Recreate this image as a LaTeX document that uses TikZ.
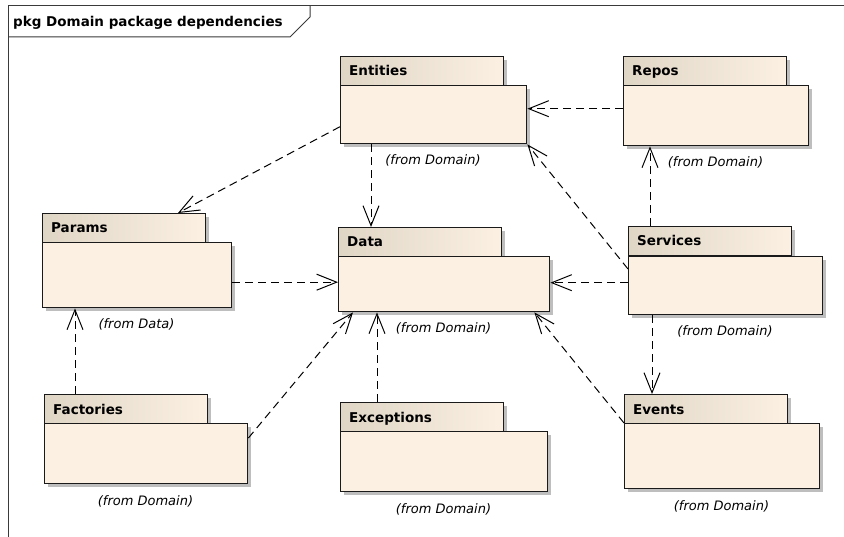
\documentclass[tikz,border=0pt]{standalone}
\usepackage{fontspec}
\setmainfont{DejaVu Sans}
\usetikzlibrary{arrows.meta,shadows}
\definecolor{bodyfill}{HTML}{FBF0E2}
\definecolor{tabL}{HTML}{E0D6C6}
\definecolor{tabR}{HTML}{FBF0E2}
\definecolor{edgec}{HTML}{1A1A1A}
\definecolor{shadowc}{HTML}{BEBEBE}
\definecolor{framec}{HTML}{3A3A3A}
\newcommand\pkgdraw[8]{%
  \node[tabbox] (#1tab) at (#3,#4) {};
  \node[bodybox,minimum width=#6pt,minimum height=#7pt] (#1) at (#3,#5) {};
  \node[pkgname] (#1name) at ({#3+9},{#4+20}) {#2};
  \node[fromlbl] (#1from) at ({#3+#6/2},{#5+#7+22}) {#8};
}
\begin{document}
\begin{tikzpicture}[x=1pt,y=-1pt,
  pkgshadow/.style={drop shadow={shadow xshift=3pt,shadow yshift=-3pt,fill=shadowc,opacity=1}},
  tabbox/.style={draw=edgec,line width=1.4pt,left color=tabL,right color=tabR,anchor=north west,minimum width=163pt,minimum height=29pt,inner sep=0pt,pkgshadow},
  bodybox/.style={draw=edgec,line width=1.4pt,fill=bodyfill,anchor=north west,inner sep=0pt,pkgshadow},
  pkgname/.style={font=\bfseries\fontsize{13.5}{16}\selectfont,anchor=base west,inner sep=0pt},
  fromlbl/.style={font=\itshape\fontsize{13}{15}\selectfont,anchor=base,inner sep=0pt},
  titletext/.style={font=\bfseries\fontsize{13.5}{16}\selectfont,anchor=base west,inner sep=0pt},
  dep/.style={draw=black,line width=1pt,dash pattern=on 8pt off 5pt,-{Straight Barb[length=20pt,width=16pt,line width=1pt]}},
  frameline/.style={draw=framec,line width=1pt},
]
\useasboundingbox (0,0) rectangle (844,537);
\fill[white] (0,0) rectangle (844,537);
% frame
\draw[frameline] (8,537) -- (8,6) -- (844,6);
\draw[frameline] (8,37) -- (290,37) -- (310,17) -- (310,6);
\node[titletext] (title) at (13,27) {pkg Domain package dependencies};
% packages
\pkgdraw{Entities}{Entities}{340}{56}{85}{186}{58}{(from Domain)}
\pkgdraw{Repos}{Repos}{623}{56}{85}{185}{60}{(from Domain)}
\pkgdraw{Params}{Params}{42}{213}{242}{189}{65}{(from Data)}
\pkgdraw{Data}{Data}{338}{227}{256}{211}{55}{(from Domain)}
\pkgdraw{Services}{Services}{628}{226}{256}{194}{58}{(from Domain)}
\pkgdraw{Factories}{Factories}{44}{394}{423}{203}{60}{(from Domain)}
\pkgdraw{Exceptions}{Exceptions}{340}{402}{431}{207}{60}{(from Domain)}
\pkgdraw{Events}{Events}{624}{394}{423}{195}{65}{(from Domain)}
% connector end points
\coordinate (c1) at ([yshift=-12pt]Entities.west);
\coordinate (c2) at ([xshift=31pt]Entities.south west);
\coordinate (c3) at ([yshift=7pt]Repos.west);
\coordinate (c4) at ([xshift=22pt]Servicestab.north west);
\coordinate (c5) at ([yshift=-13pt]Services.north west);
\coordinate (c6) at ([yshift=3pt]Services.west);
\coordinate (c7) at ([xshift=24pt]Services.south west);
\coordinate (c9) at ([yshift=-7pt]Params.east);
\coordinate (c10) at ([xshift=31pt]Factoriestab.north west);
\coordinate (c11) at ([yshift=-15pt]Factories.north east);
\coordinate (c12) at ([xshift=37pt]Exceptionstab.north west);
% dependencies
\draw[dep] (c1) -- ([xshift=136pt]Paramstab.north west);
\draw[dep] (c2) -- (c2 |- Datatab.north);
\draw[dep] (c3) -- (c3 -| Entities.east);
\draw[dep] (c4) -- (c4 |- Repos.south);
\draw[dep] (c5) -- (Entities.south east);
\draw[dep] (c6) -- (c6 -| Data.east);
\draw[dep] (c7) -- (c7 |- Eventstab.north);
\draw[dep] (Events.north west) -- ([xshift=-16pt]Data.south east);
\draw[dep] (c9) -- (c9 -| Data.west);
\draw[dep] (c10) -- (c10 |- Params.south);
\draw[dep] (c11) -- ([xshift=15pt]Data.south west);
\draw[dep] (c12) -- (c12 |- Data.south);
\end{tikzpicture}
\end{document}
